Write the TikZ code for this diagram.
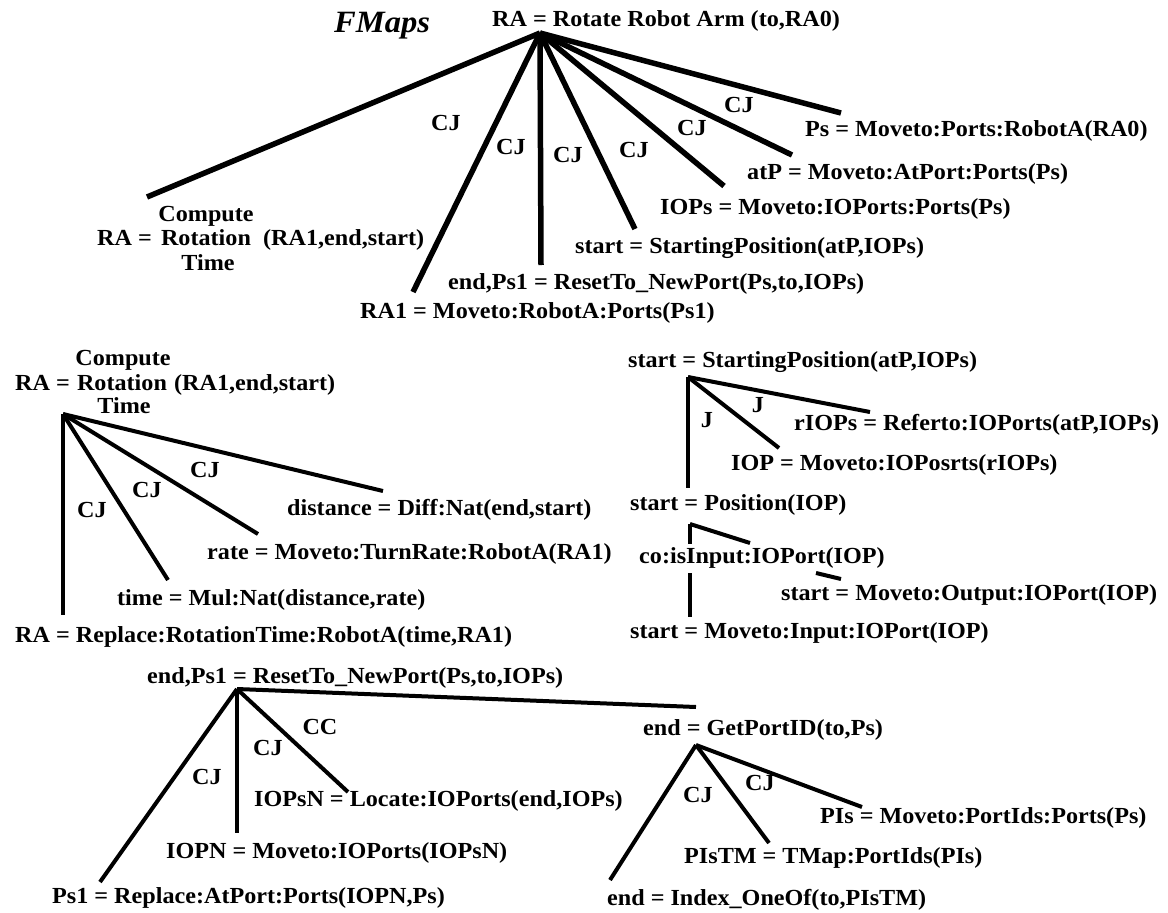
\documentclass[tikz,border=0pt]{standalone}
\usepackage{fontspec}
\setmainfont{Liberation Serif}[FakeStretch=1.05]
\begin{document}
\begin{tikzpicture}[x=1pt,y=-1pt,
  txt/.style={inner sep=0pt, anchor=base west, font=\fontsize{23}{26}\selectfont\bfseries},
  tag/.style={inner sep=0pt, anchor=center, font=\fontsize{23}{26}\selectfont\bfseries},
  arm/.style={line width=4pt},
  bigarm/.style={line width=5.5pt}]
\useasboundingbox (0,0) rectangle (1168,913);

% ---------- title ----------
\node[inner sep=0pt, anchor=base west, font=\fontsize{31}{34}\selectfont\bfseries\itshape] (title) at (334,32) {FMaps};

% ---------- Rotate Robot Arm ----------
\node[txt] (root) at (492,26) {RA = Rotate Robot Arm (to,RA0)};
\coordinate (r0) at (540,33);

\node[txt] (c1a) at (97,245) {RA =};
\node[txt,anchor=base] (c1b) at (206,221) {Compute};
\node[txt,anchor=base] (c1c) at (206,245) {Rotation};
\node[txt,anchor=base] (c1d) at (208,270) {Time};
\node[txt] (c1e) at (263,245) {(RA1,end,start)};
\coordinate (r1) at (147,197);

\node[txt] (ra1) at (360,318) {RA1 = Moveto:RobotA:Ports(Ps1)};
\coordinate (r2) at (413,292);
\node[txt] (reset) at (448,289) {end,Ps1 = ResetTo\_NewPort(Ps,to,IOPs)};
\coordinate (r3) at (541,265);
\node[txt] (sp) at (575,253) {start = StartingPosition(atP,IOPs)};
\coordinate (r4) at (635,229);
\node[txt] (iops) at (660,214) {IOPs = Moveto:IOPorts:Ports(Ps)};
\coordinate (r5) at (724,186);
\node[txt] (atp) at (747,179) {atP = Moveto:AtPort:Ports(Ps)};
\coordinate (r6) at (792,155);
\node[txt] (ps) at (805,136) {Ps = Moveto:Ports:RobotA(RA0)};
\coordinate (r7) at (841,113);

\foreach \e in {r1,r2,r3,r4,r5,r6,r7} \draw[bigarm] (r0) -- (\e);

\node[tag] (t1) at (446,123) {CJ};
\node[tag] (t2) at (511,147) {CJ};
\node[tag] (t3) at (568,155) {CJ};
\node[tag] (t4) at (634,150) {CJ};
\node[tag] (t5) at (692,128) {CJ};
\node[tag] (t6) at (739,105) {CJ};

% ---------- Compute Rotation Time ----------
\node[txt] (m1a) at (15,390) {RA =};
\node[txt,anchor=base] (m1b) at (123,365) {Compute};
\node[txt,anchor=base] (m1c) at (122,390) {Rotation};
\node[txt,anchor=base] (m1d) at (124,413) {Time};
\node[txt] (m1e) at (174,390) {(RA1,end,start)};
\coordinate (m0) at (63,414);

\node[txt] (dist) at (287,515) {distance = Diff:Nat(end,start)};
\coordinate (m4) at (383,491);
\node[txt] (rate) at (207,559) {rate = Moveto:TurnRate:RobotA(RA1)};
\coordinate (m3) at (258,534);
\node[txt] (time) at (117,605) {time = Mul:Nat(distance,rate)};
\coordinate (m2) at (168,580);
\node[txt] (repl) at (15,642) {RA = Replace:RotationTime:RobotA(time,RA1)};
\coordinate (m1) at (63,615);

\foreach \e in {m1,m2,m3,m4} \draw[arm] (m0) -- (\e);

\node[tag] (u1) at (92,510) {CJ};
\node[tag] (u2) at (147,490) {CJ};
\node[tag] (u3) at (205,470) {CJ};

% ---------- Starting Position ----------
\node[txt] (s0) at (628,367) {start = StartingPosition(atP,IOPs)};
\coordinate (p0) at (688,377);
\node[txt] (rio) at (794,430) {rIOPs = Referto:IOPorts(atP,IOPs)};
\coordinate (p3) at (870,412);
\node[txt] (iop) at (731,470) {IOP = Moveto:IOPosrts(rIOPs)};
\coordinate (p2) at (779,448);
\node[txt] (pos) at (630,510) {start = Position(IOP)};
\coordinate (p1) at (688,488);

\foreach \e in {p1,p2,p3} \draw[arm] (p0) -- (\e);

\node[tag] (j1) at (707,420) {J};
\node[tag] (j2) at (758,405) {J};

\coordinate (q0) at (690,524);
\coordinate (q1) at (690,544);
\coordinate (q2) at (750,543);
\draw[arm] (q0) -- (q1);
\draw[arm] (q0) -- (q2);

\node[txt] (isin) at (639,563) {co:isInput:IOPort(IOP)};
\node[txt] (outp) at (781,600) {start = Moveto:Output:IOPort(IOP)};
\node[txt] (inp) at (630,638) {start = Moveto:Input:IOPort(IOP)};
\coordinate (q3) at (816,573);
\coordinate (q4) at (841,579);
\coordinate (q5) at (690,573);
\coordinate (q6) at (690,617);
\draw[arm] (q3) -- (q4);
\draw[arm] (q5) -- (q6);

% ---------- ResetTo_NewPort ----------
\node[txt] (rs0) at (147,683) {end,Ps1 = ResetTo\_NewPort(Ps,to,IOPs)};
\coordinate (b0) at (237,689);
\node[txt] (locate) at (254,806) {IOPsN = Locate:IOPorts(end,IOPs)};
\coordinate (b3) at (348,792);
\node[txt] (iopn) at (166,858) {IOPN = Moveto:IOPorts(IOPsN)};
\coordinate (b2) at (237,833);
\node[txt] (ps1) at (52,903) {Ps1 = Replace:AtPort:Ports(IOPN,Ps)};
\coordinate (b1) at (100,882);
\coordinate (b4) at (696,707);

\foreach \e in {b1,b2,b3,b4} \draw[arm] (b0) -- (\e);

\node[tag] (v1) at (207,777) {CJ};
\node[tag] (v2) at (268,748) {CJ};
\node[tag] (v3) at (320,727) {CC};

% ---------- GetPortID ----------
\node[txt] (gp) at (643,735) {end = GetPortID(to,Ps)};
\coordinate (g0) at (696,745);
\node[txt] (pis) at (820,823) {PIs = Moveto:PortIds:Ports(Ps)};
\coordinate (g3) at (862,807);
\node[txt] (pistm) at (684,863) {PIsTM = TMap:PortIds(PIs)};
\coordinate (g2) at (769,843);
\node[txt] (idx) at (607,905) {end = Index\_OneOf(to,PIsTM)};
\coordinate (g1) at (610,880);

\foreach \e in {g1,g2,g3} \draw[arm] (g0) -- (\e);

\node[tag] (w1) at (698,795) {CJ};
\node[tag] (w2) at (760,783) {CJ};
\end{tikzpicture}
\end{document}
